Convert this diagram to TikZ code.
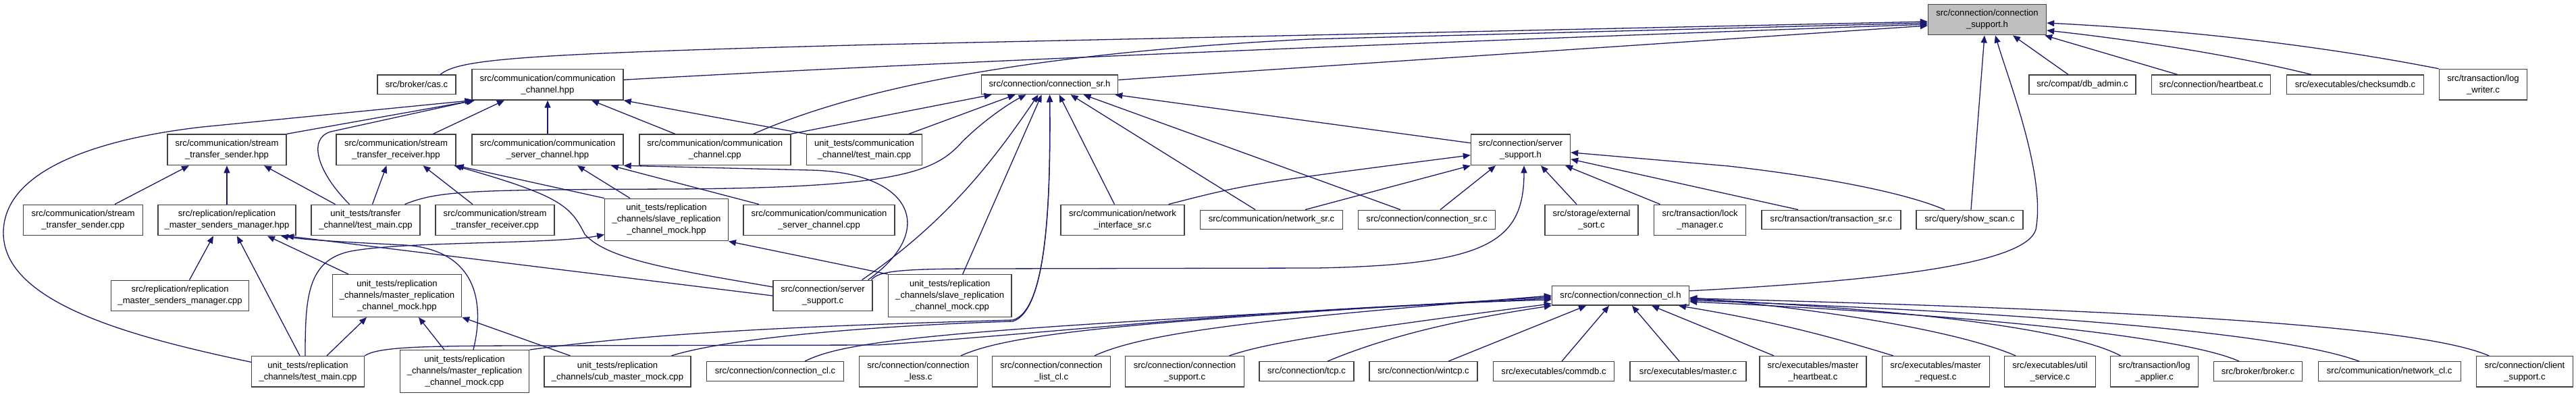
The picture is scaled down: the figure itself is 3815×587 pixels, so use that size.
\documentclass[tikz,border=0pt]{standalone}
\usepackage{fontspec}
\setmainfont{Liberation Sans}
\usetikzlibrary{arrows.meta}
\definecolor{edgeblue}{RGB}{25,25,112}
\definecolor{rootgray}{RGB}{191,191,191}

\begin{document}
\begin{tikzpicture}[x=1pt,y=-1pt,>={Triangle[length=11pt,width=9pt]},
  filebox/.style={draw=black!75,line width=1.4pt,fill=white,align=center,inner sep=0pt,
    minimum height=28.5pt,font=\fontsize{13.1}{17}\selectfont},
  tall/.style={minimum height=45.5pt},
  taller/.style={minimum height=62.5pt},
  dep/.style={->,draw=edgeblue,line width=1.3pt}]
\useasboundingbox (0,0) rectangle (3815,587);

% rank 0 and 1
\node[filebox,tall,fill=rootgray,minimum width=175pt] (root) at (2943,29) {src/connection/connection\\\_support.h};
\node[filebox,minimum width=116pt] (cas) at (617,125.3) {src/broker/cas.c};
\node[filebox,tall,minimum width=224pt] (cchpp) at (811,125.2) {src/communication/communication\\\_channel.hpp};
\node[filebox,minimum width=202pt] (consrh) at (1554.6,125.3) {src/connection/connection\_sr.h};
\node[filebox,minimum width=158pt] (dbadmin) at (3084,125.3) {src/compat/db\_admin.c};
\node[filebox,minimum width=176pt] (heartbeat) at (3274.7,125.3) {src/connection/heartbeat.c};
\node[filebox,minimum width=203pt] (checksumdb) at (3488,125.3) {src/executables/checksumdb.c};
\node[filebox,tall,minimum width=130pt] (logwriter) at (3677.4,125.2) {src/transaction/log\\\_writer.c};

% rank 2
\node[filebox,tall,minimum width=176pt] (sendhpp) at (336,221.8) {src/communication/stream\\\_transfer\_sender.hpp};
\node[filebox,tall,minimum width=177pt] (recvhpp) at (586.5,221.8) {src/communication/stream\\\_transfer\_receiver.hpp};
\node[filebox,tall,minimum width=224pt] (cschpp) at (811,221.8) {src/communication/communication\\\_server\_channel.hpp};
\node[filebox,tall,minimum width=224pt] (cccpp) at (1058.8,221.8) {src/communication/communication\\\_channel.cpp};
\node[filebox,tall,minimum width=171pt] (uctest) at (1280,221.8) {unit\_tests/communication\\\_channel/test\_main.cpp};
\node[filebox,tall,minimum width=147pt] (sssh) at (2252,221.8) {src/connection/server\\\_support.h};

% rank 3
\node[filebox,tall,minimum width=177pt] (sendcpp) at (123,326) {src/communication/stream\\\_transfer\_sender.cpp};
\node[filebox,tall,minimum width=204pt] (msmhpp) at (336,326) {src/replication/replication\\\_master\_senders\_manager.hpp};
\node[filebox,tall,minimum width=161pt] (tctest) at (541.5,326) {unit\_tests/transfer\\\_channel/test\_main.cpp};
\node[filebox,tall,minimum width=176pt] (recvcpp) at (733,326) {src/communication/stream\\\_transfer\_receiver.cpp};
\node[filebox,taller,minimum width=182.5pt] (smockhpp) at (987,325.5) {unit\_tests/replication\\\_channels/slave\_replication\\\_channel\_mock.hpp};
\node[filebox,tall,minimum width=224pt] (cscpp) at (1213,326) {src/communication/communication\\\_server\_channel.cpp};
\node[filebox,tall,minimum width=183pt] (nisr) at (1662.5,326) {src/communication/network\\\_interface\_sr.c};
\node[filebox,minimum width=211pt] (netsr) at (1883,325.5) {src/communication/network\_sr.c};
\node[filebox,minimum width=203pt] (consrc) at (2113,325.5) {src/connection/connection\_sr.c};
\node[filebox,tall,minimum width=138pt] (extsort) at (2357,326) {src/storage/external\\\_sort.c};
\node[filebox,tall,minimum width=136pt] (lockmgr) at (2517.6,326) {src/transaction/lock\\\_manager.c};
\node[filebox,minimum width=206pt] (transr) at (2712,325.5) {src/transaction/transaction\_sr.c};
\node[filebox,minimum width=158pt] (showscan) at (2917,325.5) {src/query/show\_scan.c};

% rank 4
\node[filebox,tall,minimum width=204pt] (msmcpp) at (266.6,438) {src/replication/replication\\\_master\_senders\_manager.cpp};
\node[filebox,taller,minimum width=191pt] (mmockhpp) at (588,438) {unit\_tests/replication\\\_channels/master\_replication\\\_channel\_mock.hpp};
\node[filebox,tall,minimum width=147pt] (sscc) at (1218.5,438) {src/connection/server\\\_support.c};
\node[filebox,taller,minimum width=182.6pt] (smockcpp) at (1406.7,438) {unit\_tests/replication\\\_channels/slave\_replication\\\_channel\_mock.cpp};
\node[filebox,minimum width=203pt] (conclh) at (2400,437.8) {src/connection/connection\_cl.h};

% rank 5
\node[filebox,tall,minimum width=167pt] (rctest) at (456,550.3) {unit\_tests/replication\\\_channels/test\_main.cpp};
\node[filebox,taller,minimum width=191.5pt] (mmockcpp) at (688,550) {unit\_tests/replication\\\_channels/master\_replication\\\_channel\_mock.cpp};
\node[filebox,tall,minimum width=217pt] (cubmock) at (914.5,550.3) {unit\_tests/replication\\\_channels/cub\_master\_mock.cpp};
\node[filebox,minimum width=203pt] (conclc) at (1148,550) {src/connection/connection\_cl.c};
\node[filebox,tall,minimum width=175pt] (conless) at (1360,550.3) {src/connection/connection\\\_less.c};
\node[filebox,tall,minimum width=175pt] (conlistcl) at (1557,550.3) {src/connection/connection\\\_list\_cl.c};
\node[filebox,tall,minimum width=175.5pt] (consupc) at (1754.5,550.3) {src/connection/connection\\\_support.c};
\node[filebox,minimum width=140pt] (tcp) at (1935,550) {src/connection/tcp.c};
\node[filebox,minimum width=160pt] (wintcp) at (2108,550) {src/connection/wintcp.c};
\node[filebox,minimum width=179pt] (commdb) at (2301,550) {src/executables/commdb.c};
\node[filebox,minimum width=172pt] (masterc) at (2500,550) {src/executables/master.c};
\node[filebox,tall,minimum width=158pt] (mheartbeat) at (2685,550.3) {src/executables/master\\\_heartbeat.c};
\node[filebox,tall,minimum width=159pt] (mrequest) at (2866.7,550.3) {src/executables/master\\\_request.c};
\node[filebox,tall,minimum width=135pt] (utilsvc) at (3036,550.3) {src/executables/util\\\_service.c};
\node[filebox,tall,minimum width=130pt] (logapplier) at (3190.5,550.3) {src/transaction/log\\\_applier.c};
\node[filebox,minimum width=131pt] (brokerc) at (3344,550) {src/broker/broker.c};
\node[filebox,minimum width=211pt] (netcl) at (3538.7,550) {src/communication/network\_cl.c};
\node[filebox,tall,minimum width=143pt] (clientsup) at (3739,550.3) {src/connection/client\\\_support.c};

% into connection_support.h
\draw[dep] ([xshift=35pt]cas.north) .. controls (680,88) and (760,80) .. (1300,66) -- ([yshift=-3pt]root.west);
\draw[dep] ([yshift=7pt]cchpp.east) .. controls (1300,97) and (1900,70) .. ([yshift=-7pt]root.west);
\draw[dep] ([xshift=57pt]cccpp.north) .. controls (1260,135) and (1500,80) .. (1940,58) -- ([yshift=-5pt]root.west);
\draw[dep] ([yshift=7pt]consrh.east) -- ([yshift=-9pt]root.west);
\draw[dep] ([yshift=7pt]conclh.east) .. controls (2800,415) and (3000,390) .. (3015,340) .. controls (3030,260) and (2975,120) .. ([xshift=12pt]root.south);
\draw[dep] ([xshift=2pt]showscan.north) -- ([xshift=-4pt]root.south);
\draw[dep] ([xshift=-21pt]dbadmin.north) -- ([xshift=38pt]root.south);
\draw[dep] ([xshift=-50pt]heartbeat.north) -- ([xshift=-3pt]root.south east);
\draw[dep] ([xshift=-65pt]checksumdb.north) .. controls (3300,80) and (3150,58) .. ([yshift=-16pt]root.east);
\draw[dep] (logwriter.north west) .. controls (3450,70) and (3250,45) .. ([yshift=-5pt]root.east);

% into connection_sr.h
\draw[dep] (cccpp.north east) -- ([xshift=-86pt]consrh.south);
\draw[dep] ([xshift=66pt]uctest.north) -- ([xshift=-51pt]consrh.south);
\draw[dep] ([xshift=58pt]tctest.north) .. controls (650,282) and (700,281) .. (1000,280) .. controls (1330,278) and (1385,255) .. (1425,210) .. controls (1460,175) and (1500,150) .. ([xshift=-35pt]consrh.south);
\draw[dep] ([xshift=58pt]sscc.north) .. controls (1400,330) and (1470,240) .. ([xshift=-17pt]consrh.south);
\draw[dep] ([xshift=19pt]smockcpp.north) -- ([xshift=-12pt]consrh.south);
\draw[dep] (mmockcpp.north east) .. controls (1000,488) and (1300,480) .. (1500,474) .. controls (1550,460) and (1556,300) .. (consrh.south);
\draw[dep] ([xshift=80pt]cubmock.north) .. controls (1080,500) and (1300,482) .. (1500,476) .. controls (1550,460) and (1556,300) .. (consrh.south);
\draw[dep] ([xshift=-12pt]nisr.north) -- ([xshift=14pt]consrh.south);
\draw[dep] ([xshift=-24pt]netsr.north) -- ([xshift=31pt]consrh.south);
\draw[dep] ([xshift=-39pt]consrc.north) -- ([xshift=50pt]consrh.south);
\draw[dep] ([yshift=10pt]sssh.west) -- ([xshift=-5pt]consrh.south east);

% into communication_channel.hpp
\draw[dep] (sendhpp.north east) -- ([xshift=5pt]cchpp.south west);
\draw[dep] ([xshift=-24pt]tctest.north) .. controls (470,255) and (455,205) .. (490,195) -- ([xshift=3pt]cchpp.south west);
\draw[dep] ([yshift=14pt]rctest.west) .. controls (200,500) and (5,450) .. (5,345) .. controls (5,250) and (150,205) .. (300,188) -- ([xshift=1pt]cchpp.south west);
\draw[dep] ([xshift=55pt]recvhpp.north) -- ([xshift=-64pt]cchpp.south);
\draw[dep] (cschpp) -- (cchpp);
\draw[dep] ([xshift=-59pt]cccpp.north) -- ([xshift=65pt]cchpp.south);
\draw[dep] (uctest.north west) -- (cchpp.south east);

% into the stream headers
\draw[dep] ([xshift=47pt]sendcpp.north) -- ([xshift=-56pt]sendhpp.south);
\draw[dep] (msmhpp) -- (sendhpp);
\draw[dep] ([xshift=-45pt]tctest.north) -- ([xshift=55pt]sendhpp.south);
\draw[dep] ([xshift=10pt]tctest.north) -- ([xshift=-14pt]recvhpp.south);
\draw[dep] ([xshift=-33pt]recvcpp.north) -- ([xshift=40pt]recvhpp.south);
\draw[dep] (smockhpp.north west) -- (recvhpp.south east);
\draw[dep] ([yshift=13pt]sscc.west) .. controls (1000,400) and (900,385) .. (866,347) .. controls (845,305) and (830,290) .. ([xshift=-3pt]recvhpp.south east);

% into communication_server_channel.hpp
\draw[dep] ([xshift=-54pt]smockhpp.north) -- ([xshift=44pt]cschpp.south);
\draw[dep] ([xshift=-89pt]cscpp.north) -- ([xshift=94pt]cschpp.south);
\draw[dep] ([xshift=67pt]sscc.north) .. controls (1390,340) and (1350,255) .. (1200,252) -- (cschpp.south east);

% into the replication headers
\draw[dep] ([xshift=14pt]msmcpp.north) -- ([xshift=-20pt]msmhpp.south);
\draw[dep] ([xshift=-12pt]rctest.north) -- ([xshift=15pt]msmhpp.south);
\draw[dep] ([xshift=-72pt]mmockhpp.north) -- ([xshift=60pt]msmhpp.south);
\draw[dep] (sscc.west) -- ([xshift=88pt]msmhpp.south);
\draw[dep] ([xshift=13pt]mmockcpp.north) .. controls (720,440) and (700,370) .. (600,363) .. controls (500,358) and (450,355) .. ([xshift=80pt]msmhpp.south);
\draw[dep] ([xshift=28pt]rctest.north) -- ([xshift=-45pt]mmockhpp.south);
\draw[dep] ([xshift=-30pt]mmockcpp.north) -- ([xshift=32pt]mmockhpp.south);
\draw[dep] ([xshift=-70pt]cubmock.north) -- (mmockhpp.south east);
\draw[dep] ([xshift=-4pt]rctest.north) .. controls (452,440) and (455,385) .. (520,372) .. controls (600,357) and (820,362) .. ([yshift=-22pt]smockhpp.west);
\draw[dep] (smockcpp.north west) -- (smockhpp.south east);

% into server_support.h
\draw[dep] ([xshift=68pt]nisr.north) .. controls (1850,272) .. ([yshift=-8pt]sssh.west);
\draw[dep] ([xshift=50pt]netsr.north) -- (sssh.south west);
\draw[dep] ([xshift=20pt]consrc.north) -- ([xshift=-37pt]sssh.south);
\draw[dep] ([xshift=72pt]sscc.north) .. controls (1300,402) and (1330,398) .. (1450,398) -- (1950,397) .. controls (2200,392) and (2257,360) .. ([xshift=5pt]sssh.south);
\draw[dep] ([xshift=-22pt]extsort.north) -- ([xshift=30pt]sssh.south);
\draw[dep] ([xshift=-59pt]lockmgr.north) -- ([xshift=66pt]sssh.south);
\draw[dep] ([xshift=-49pt]transr.north) -- ([yshift=-14pt]sssh.east);
\draw[dep] ([xshift=-37pt]showscan.north) .. controls (2820,285) and (2700,262) .. (2560,246) -- ([yshift=-4pt]sssh.east);

% into connection_cl.h
\draw[dep] ([xshift=31pt]tcp.north) .. controls (2050,500) and (2150,475) .. (conclh.south west);
\draw[dep] ([xshift=37pt]wintcp.north) -- ([xshift=-51pt]conclh.south);
\draw[dep] ([xshift=12pt]commdb.north) -- ([xshift=-17pt]conclh.south);
\draw[dep] ([xshift=-13pt]masterc.north) -- ([xshift=17pt]conclh.south);
\draw[dep] ([xshift=-58pt]mheartbeat.north) -- ([xshift=46pt]conclh.south);
\draw[dep] ([xshift=-63pt]mrequest.north) .. controls (2700,495) and (2620,475) .. ([xshift=86pt]conclh.south);
\draw[dep] ([xshift=-51pt]utilsvc.north) .. controls (2900,490) and (2700,458) .. ([yshift=-3pt]conclh.east);
\draw[dep] ([xshift=-50pt]logapplier.north) .. controls (3080,495) and (2900,462) .. ([yshift=-5pt]conclh.east);
\draw[dep] ([xshift=-28pt]brokerc.north) .. controls (3250,505) and (3000,470) .. ([yshift=-9pt]conclh.east);
\draw[dep] ([xshift=-45pt]netcl.north) .. controls (3400,500) and (3100,466) .. ([yshift=-7pt]conclh.east);
\draw[dep] ([xshift=-53pt]clientsup.north) .. controls (3600,490) and (3300,462) .. ([yshift=-4pt]conclh.east);
\draw[dep] (rctest.north east) .. controls (560,514) and (620,512) .. (800,512) -- (1300,511) .. controls (1600,490) and (1850,458) .. ([yshift=-6pt]conclh.west);
\draw[dep] ([xshift=44pt]conclc.north) .. controls (1260,500) and (1450,486) .. ([yshift=-4pt]conclh.west);
\draw[dep] ([xshift=63pt]conless.north) .. controls (1500,492) and (1700,475) .. ([yshift=-2pt]conclh.west);
\draw[dep] ([xshift=64pt]conlistcl.north) .. controls (1700,490) and (1900,470) .. (conclh.west);
\draw[dep] ([xshift=66pt]consupc.north) .. controls (1870,510) and (1950,495) .. ([yshift=-12pt]conclh.west);
\end{tikzpicture}
\end{document}
